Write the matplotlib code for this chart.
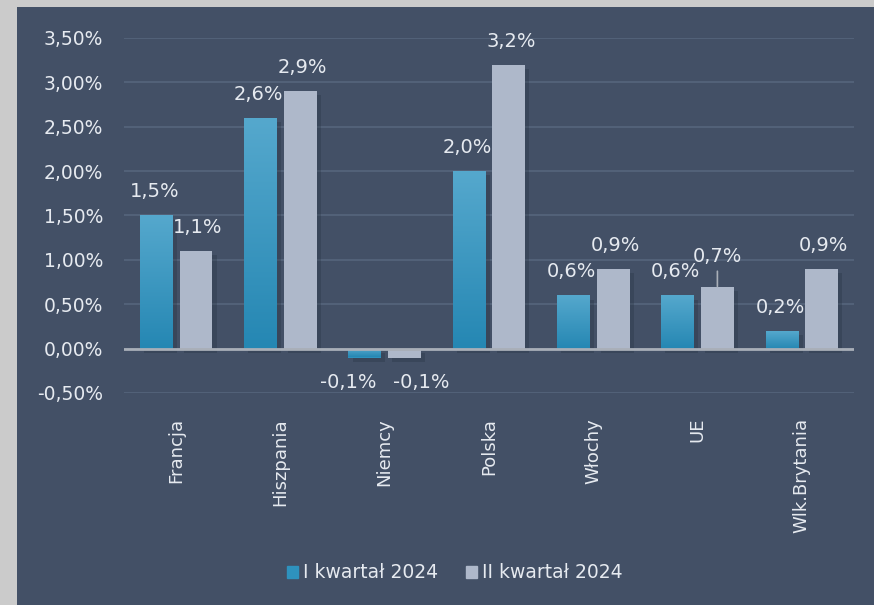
import numpy as np
import matplotlib
matplotlib.use("Agg")
import matplotlib.pyplot as plt
from matplotlib.patches import Rectangle
from matplotlib import patheffects as pe
from matplotlib.colors import LinearSegmentedColormap

categories = ["Francja", "Hiszpania", "Niemcy", "Polska", "Włochy", "UE", "Wlk.Brytania"]
q1_values = [1.5, 2.6, -0.1, 2.0, 0.6, 0.6, 0.2]
q2_values = [1.1, 2.9, -0.1, 3.2, 0.9, 0.7, 0.9]
series_names = ["I kwartał 2024", "II kwartał 2024"]
y_ticks = [-0.5, 0.0, 0.5, 1.0, 1.5, 2.0, 2.5, 3.0, 3.5]

BG = "#435066"
TXT = "#E6EAF0"
BLUE = "#2E92BE"
GRAY = "#AEB8CA"

fig = plt.figure(figsize=(8.74, 6.05), dpi=100)
fig.patch.set_facecolor("#CBCBCB")
fig.patches.append(Rectangle((17/874, 0), 1 - 17/874, (605-7)/605,
                             transform=fig.transFigure, facecolor=BG,
                             edgecolor="none", zorder=-10))

ax = fig.add_axes([124/874, (605-393)/605, (854-124)/874, (393-38)/605])
ax.set_facecolor("none")
for s in ax.spines.values():
    s.set_visible(False)

ax.set_ylim(-0.5, 3.5)
ax.set_xlim(-0.5, len(categories) - 0.5)
ax.set_yticks(y_ticks)
ax.set_yticklabels([f"{v:.2f}%".replace(".", ",") for v in y_ticks],
                   color=TXT, fontsize=13.5)
ax.tick_params(axis="y", length=0, pad=15)
ax.tick_params(axis="x", length=0, pad=18)
ax.yaxis.grid(True, color="#56657C", lw=1.2)
ax.set_axisbelow(True)

x = np.arange(len(categories))
w = 0.315
off = 0.19

cmap = LinearSegmentedColormap.from_list("bl", ["#2587B3", "#55A8CD"])
shadow = [pe.SimplePatchShadow(offset=(3, -3), shadow_rgbFace="#25303f", alpha=0.3), pe.Normal()]

bars1 = ax.bar(x - off, q1_values, w, color=BLUE, zorder=3, path_effects=shadow)
bars2 = ax.bar(x + off, q2_values, w, color=GRAY, zorder=3, path_effects=shadow)

grad = np.linspace(0, 1, 100).reshape(-1, 1)
for b in bars1:
    x0, y0 = b.get_x(), b.get_y()
    h = b.get_height()
    y_lo, y_hi = min(y0, y0 + h), max(y0, y0 + h)
    im = ax.imshow(grad, cmap=cmap, aspect="auto", origin="lower",
                   extent=[x0, x0 + b.get_width(), y_lo, y_hi], zorder=3.5)
    im.set_clip_path(b)
ax.set_xlim(-0.5, len(categories) - 0.5)
ax.set_ylim(-0.5, 3.5)

ax.axhline(0, color="#A9AFB8", lw=2, zorder=4)

ax.set_xticks(x)
ax.set_xticklabels(categories, rotation=90, color=TXT, fontsize=13, va="top")

def fmt(v):
    return f"{v:.1f}%".replace(".", ",")

for i, (a, b) in enumerate(zip(q1_values, q2_values)):
    for v, xc, side in ((a, x[i] - off, -1), (b, x[i] + off, 1)):
        if v >= 0:
            if categories[i] == "UE" and side == 1:
                ax.annotate(fmt(v), xy=(xc, v), xytext=(0, 21.5), textcoords="offset points",
                            ha="center", va="center", color=TXT, fontsize=14, zorder=6)
                ax.annotate("", xy=(xc, v), xytext=(0, 11), textcoords="offset points",
                            arrowprops=dict(arrowstyle="-", color="#A9AFB8", lw=1.2,
                                            shrinkA=0, shrinkB=0), zorder=6)
            else:
                ax.annotate(fmt(v), xy=(xc, v), xytext=(side * 1.5, 17), textcoords="offset points",
                            ha="center", va="center", color=TXT, fontsize=14, zorder=6)
        else:
            ax.annotate(fmt(v), xy=(xc, v), xytext=(side * 12, -18), textcoords="offset points",
                        ha="center", va="center", color=TXT, fontsize=14, zorder=6)

handles = [Rectangle((0, 0), 1, 1, color=BLUE), Rectangle((0, 0), 1, 1, color=GRAY)]
leg = fig.legend(handles, series_names, loc="center", bbox_to_anchor=(0.52, 0.053),
                 ncol=2, frameon=False, fontsize=13.5, handlelength=0.6, handleheight=0.6,
                 handletextpad=0.25, columnspacing=1.5)
for t in leg.get_texts():
    t.set_color(TXT)

fig.savefig("out.png", dpi=100, facecolor=fig.get_facecolor())
